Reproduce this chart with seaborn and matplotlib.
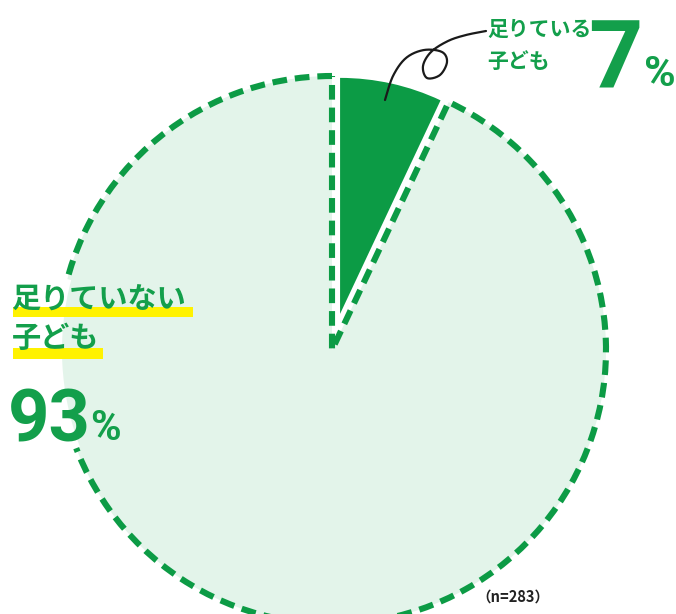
import numpy as np
import seaborn as sns
import matplotlib.pyplot as plt
from matplotlib.patches import Wedge, Rectangle

# data
labels = ['足りている子ども', '足りていない子ども']
shares = [7, 93]
n_total = 283

# colors
dark_green = '#0c9b45'
light_green = '#e3f4ea'
text_green = '#139f4b'
marker_yellow = '#fff200'

sns.set_theme(style='white')
plt.rcParams['font.family'] = ['Noto Sans CJK JP', 'DejaVu Sans']
num_font = ['Roboto', 'DejaVu Sans']

W, H = 676, 614
fig = plt.figure(figsize=(W / 100, H / 100), dpi=100)
ax = fig.add_axes([0, 0, 1, 1])


def Y(y):
    # pixel row (from top) -> data y
    return H - y


cx, cy, r = 332, Y(350), 274

# pie: small slice pulled out, big slice light with dashed outline
wedges, _ = ax.pie(shares, startangle=90, counterclock=False,
                   colors=[dark_green, light_green],
                   explode=[37, 0], center=(cx, cy), radius=r,
                   wedgeprops=dict(linewidth=0), frame=True)
wedges[0].set_radius(r - 38)
big = wedges[1]
outline = Wedge(big.center, big.r, big.theta1, big.theta2, facecolor='none',
                edgecolor=dark_green, linewidth=4.4,
                linestyle=(0, (2.4, 1.3)), zorder=3)
outline.set_capstyle('butt')
ax.add_patch(outline)
# hide the dashed rim behind the left label block
ax.add_patch(Wedge((cx, cy), r + 10, 165, 201, width=14,
                   facecolor='white', edgecolor='none', zorder=4))


# hand-drawn pointer line
def smooth(pts, n=20):
    P = np.array(pts, float)
    P = np.vstack([P[0], P, P[-1]])
    out = []
    t = np.linspace(0, 1, n, endpoint=False)[:, None]
    for i in range(1, len(P) - 2):
        p0, p1, p2, p3 = P[i - 1], P[i], P[i + 1], P[i + 2]
        out.append(0.5 * (2 * p1 + (-p0 + p2) * t + (2 * p0 - 5 * p1 + 4 * p2 - p3) * t ** 2
                          + (-p0 + 3 * p1 - 3 * p2 + p3) * t ** 3))
    out.append(P[-2][None])
    return np.vstack(out)


curl = smooth([(385, 100), (393, 76), (406, 58), (424, 50), (442, 52), (447, 62),
               (440, 75), (427, 78), (423, 66), (431, 52), (448, 41), (466, 35), (486, 31)])
ax.plot(curl[:, 0], Y(curl[:, 1]), color='#1a1a1a', linewidth=1.6, zorder=5,
        solid_capstyle='round')

# small slice label
ax.text(487, Y(29), '足りている', fontsize=15, fontweight='bold', color=text_green,
        va='center', ha='left', zorder=6)
ax.text(487, Y(61), '子ども', fontsize=15, fontweight='bold', color=text_green,
        va='center', ha='left', zorder=6)
ax.text(642, Y(88), f'{shares[0]}', fontsize=68, fontweight='bold', color=text_green,
        family=num_font, va='baseline', ha='right', zorder=6)
ax.text(644, Y(86), '%', fontsize=31, fontweight='bold', color=text_green,
        family=num_font, va='baseline', ha='left', zorder=6)

# big slice label with marker highlight
ax.add_patch(Rectangle((13, Y(317)), 180, 10, facecolor=marker_yellow,
                       edgecolor='none', zorder=5))
ax.add_patch(Rectangle((13, Y(359)), 90, 11, facecolor=marker_yellow,
                       edgecolor='none', zorder=5))
ax.text(12, Y(300), '足りていない', fontsize=21, fontweight='bold', color=text_green,
        va='center', ha='left', zorder=6)
ax.text(12, Y(338), '子ども', fontsize=21, fontweight='bold', color=text_green,
        va='center', ha='left', zorder=6)
ax.text(8, Y(442), f'{shares[1]}', fontsize=52, fontweight='bold', color=text_green,
        family=num_font, va='baseline', ha='left', zorder=6)
ax.text(90, Y(440), '%', fontsize=30, fontweight='bold', color=text_green,
        family=num_font, va='baseline', ha='left', zorder=6)

# sample size
ax.text(513, Y(597), f'（n={n_total}）', fontsize=10.5, fontweight='bold', color='#222222',
        va='center', ha='center', zorder=6)

ax.set_xlim(0, W)
ax.set_ylim(0, H)
ax.set_aspect('equal')
ax.axis('off')

plt.savefig('out.png', dpi=100)
